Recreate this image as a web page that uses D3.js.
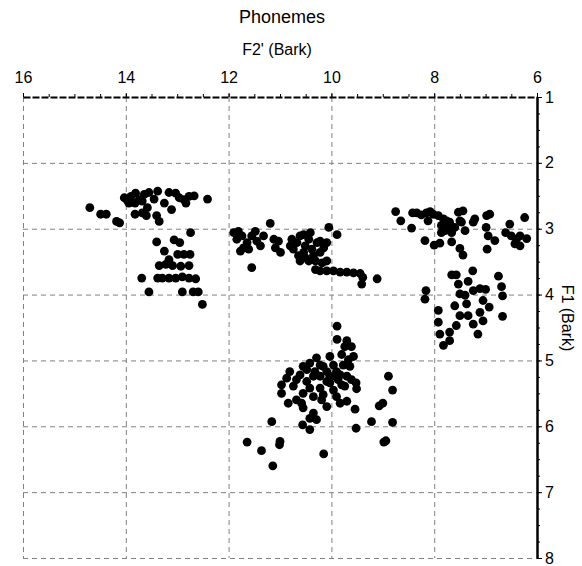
<!DOCTYPE html>
<html>
<head>
<meta charset="utf-8">
<script src="https://cdn.jsdelivr.net/npm/d3@7"></script>
<style>
  body { margin: 0; background: #fff; }
  text { font-family: Arial, "Liberation Sans", sans-serif; fill: #000; }
</style>
</head>
<body>
<div id="chart"></div>
<script>
// axis ticks
var xTicks = [16, 14, 12, 10, 8, 6];
var yTicks = [1, 2, 3, 4, 5, 6, 7, 8];

// [F2' (Bark), F1 (Bark)], one list per cloud
var groupI = [
  [14.03,2.53],[13.97,2.57],[13.9,2.51],[13.81,2.46],[13.74,2.56],[13.64,2.48],[13.55,2.45],
  [13.38,2.43],[13.45,2.55],[13.16,2.45],[13.03,2.46],[12.96,2.53],[12.87,2.56],[12.77,2.51],
  [12.67,2.5],[12.41,2.55],[13.94,2.61],[13.82,2.61],[13.68,2.58],[13.25,2.61],[13.11,2.71],
  [12.83,2.61],[13.58,2.68],
  [14.7,2.68],[14.49,2.78],[14.38,2.78],[14.18,2.89],[14.12,2.91],[13.82,2.78],[13.68,2.76],
  [13.6,2.8],[13.4,2.8],[13.35,2.89],[12.74,3.06],
  [13.4,3.2],[13.06,3.17],[12.95,3.21],[13.25,3.34],[12.99,3.39],[12.87,3.39],[12.75,3.39],
  [13.35,3.56],[13.22,3.54],[13.09,3.56],[12.93,3.57],[12.77,3.56],[13.16,3.47],
  [13.69,3.75],[13.38,3.75],[13.29,3.75],[13.16,3.75],[13.03,3.75],[12.9,3.73],[12.77,3.75],
  [12.64,3.76],[13.55,3.96],[12.9,3.96],[12.69,3.96],[12.59,3.96],[12.51,4.15]
];

var groupE = [
  [11.9,3.06],[11.81,3.04],[11.74,3.11],[11.84,3.16],[11.77,3.34],[11.64,3.21],[11.55,3.11],
  [11.48,3.04],[11.45,3.19],[11.38,3.26],[11.32,3.11],[11.19,2.92],[11.12,3.16],[11.09,3.29],
  [10.99,3.36],[11.03,3.19],[11.55,3.59],[11.61,3.31],[11.71,3.29],[10.77,3.16],[10.74,3.31],
  [10.67,3.21],[10.61,3.11],[10.54,3.09],[10.51,3.26],[10.44,3.16],[10.38,3.31],[10.64,3.41],
  [10.61,3.49],[10.51,3.44],[10.35,3.41],[10.28,3.21],[10.22,3.19],[10.15,3.29],[10.09,3.21],
  [10.05,2.98],[9.89,3.09],[10.22,3.36],[10.18,3.52],[10.09,3.49],[10.31,3.62],[10.22,3.64],
  [10.09,3.64],[9.96,3.64],[9.83,3.66],[9.7,3.66],[9.57,3.67],[9.44,3.68],[9.39,3.74],
  [9.41,3.84],[9.11,3.76],[10.44,3.49],[10.31,3.49],[10.54,3.36],[10.41,3.06],[10.8,3.26]
];

var groupU = [
  [8.75,2.74],[8.65,2.88],[8.44,2.99],[8.42,2.76],[8.34,2.76],[8.25,2.79],[8.15,2.76],
  [8.08,2.74],[8.12,2.88],[8.02,2.78],[7.92,2.8],[7.82,2.85],[7.76,2.88],[7.7,2.9],
  [7.86,2.95],[7.79,3.03],[7.73,3.0],[7.66,3.06],[7.86,3.06],[7.6,2.98],[7.53,2.75],
  [7.44,2.73],[7.5,2.88],[7.47,2.9],[7.4,3.03],[7.24,2.9],[7.21,2.85],[6.98,2.8],
  [6.92,2.78],[6.99,2.98],[6.95,3.11],[6.82,3.18],[6.97,3.31],[8.18,3.18],[8.0,3.25],
  [7.89,3.22],[7.66,3.2],[7.5,3.3],[7.44,3.4],[6.53,2.93],[6.61,3.06],[6.5,3.11],
  [6.4,3.16],[6.33,3.11],[6.2,3.15],[6.24,2.83],[6.43,3.23],[6.33,3.26]
];

var groupO = [
  [7.66,3.7],[7.57,3.7],[7.53,3.84],[7.25,3.64],[7.34,3.8],[6.75,3.72],[6.69,3.88],
  [6.67,4.02],[7.11,3.91],[7.0,3.92],[7.24,3.94],[7.5,3.99],[7.4,4.01],[8.16,3.94],
  [8.18,4.07],[7.92,4.24],[7.92,4.42],[7.89,4.6],[7.82,4.77],[7.7,4.57],[7.7,4.7],
  [7.57,4.47],[7.6,4.17],[7.5,4.32],[7.37,4.14],[7.34,4.32],[7.24,4.45],[7.15,4.6],
  [7.11,4.27],[7.05,4.09],[7.05,4.4],[6.93,4.19],[6.67,4.33]
];

var groupA = [
  [9.89,4.48],[9.89,4.68],[9.7,4.7],[9.61,4.79],[9.57,4.94],[9.64,5.09],[9.61,5.29],
  [9.51,5.43],[9.52,5.34],[10.29,4.96],[10.03,4.94],[10.16,5.09],[9.96,5.07],[9.9,5.17],
  [10.03,5.24],[9.87,5.29],[9.8,5.37],[9.96,5.45],[10.09,5.32],[10.22,5.24],[10.32,5.17],
  [10.48,5.14],[10.61,5.22],[10.81,5.17],[10.68,5.29],[10.97,5.37],[10.97,5.5],[10.84,5.65],
  [10.68,5.6],[10.58,5.65],[10.55,5.72],[10.42,5.42],[10.22,5.42],[10.19,5.6],[10.09,5.7],
  [10.35,5.8],[10.42,5.88],[10.29,5.9],[10.56,5.98],[10.42,6.05],[9.83,5.65],[9.7,5.62],
  [9.54,5.74],[9.52,6.03],[11.16,5.93],[11.0,6.23],[11.01,6.28],[11.36,6.37],[11.64,6.24],
  [11.14,6.6],[10.15,6.42],[8.89,5.24],[8.81,5.45],[9.0,5.65],[9.07,5.69],[9.22,5.93],
  [8.81,5.94],[8.98,6.24],[8.94,6.22],
  [10.55,5.09],[10.42,5.04],[10.35,5.24],[10.22,5.07],[10.09,5.17],[10.03,5.34],[9.93,5.24],
  [9.83,5.22],[9.77,5.07],[9.74,5.39],[9.9,5.55],[10.16,5.52],[10.35,5.55],[10.55,5.5],
  [10.74,5.39],[10.87,5.27],[10.48,5.32],[9.7,5.24],[9.67,4.99],[9.8,4.91],[9.74,4.79]
];

var w = 582;
var h = 566;
var plotLeft = 23, plotRight = 537, plotTop = 97, plotBottom = 558;

var xScale = d3.scaleLinear().domain([16, 6]).range([plotLeft, plotRight]);
var yScale = d3.scaleLinear().domain([1, 8]).range([plotTop, plotBottom]);

var svg = d3.select("#chart")
            .append("svg")
            .attr("width", w)
            .attr("height", h);

// dashed grid (also draws left + bottom edges)
svg.append("g")
   .selectAll("line")
   .data(xTicks.filter(function(d) { return d !== 6; }))
   .enter()
   .append("line")
   .attr("x1", function(d) { return xScale(d) + 0.5; })
   .attr("x2", function(d) { return xScale(d) + 0.5; })
   .attr("y1", plotTop)
   .attr("y2", plotBottom)
   .attr("stroke", "#808080")
   .attr("stroke-dasharray", "5,4");

svg.append("g")
   .selectAll("line")
   .data(yTicks.filter(function(d) { return d !== 1; }))
   .enter()
   .append("line")
   .attr("x1", plotLeft)
   .attr("x2", plotRight)
   .attr("y1", function(d) { return yScale(d) + 0.5; })
   .attr("y2", function(d) { return yScale(d) + 0.5; })
   .attr("stroke", "#808080")
   .attr("stroke-dasharray", "5,4");

// top axis (F2')
var xAxis = d3.axisTop(xScale)
              .tickValues(xTicks)
              .tickFormat(d3.format("d"))
              .tickSizeInner(4)
              .tickSizeOuter(0)
              .tickPadding(10);

var xMinor = d3.axisTop(xScale)
               .tickValues(d3.range(16, 5.9, -0.5))
               .tickFormat("")
               .tickSizeInner(3)
               .tickSizeOuter(0);

svg.append("g")
   .attr("transform", "translate(0," + plotTop + ")")
   .call(xMinor)
   .call(function(g) { g.select(".domain").remove(); });

var gx = svg.append("g")
   .attr("class", "axis")
   .attr("transform", "translate(0," + plotTop + ")")
   .call(xAxis);
gx.select(".domain")
  .attr("stroke", "#000")
  .attr("stroke-width", 2)
  .attr("stroke-dasharray", "7,2");
gx.selectAll("text").style("font-size", "16px");

// right axis (F1)
var yAxis = d3.axisRight(yScale)
              .tickValues(yTicks)
              .tickFormat(d3.format("d"))
              .tickSizeInner(5)
              .tickSizeOuter(0)
              .tickPadding(3);

var yMinor = d3.axisRight(yScale)
               .tickValues(d3.range(1, 8.01, 0.25))
               .tickFormat("")
               .tickSizeInner(3)
               .tickSizeOuter(0);

svg.append("g")
   .attr("transform", "translate(" + plotRight + ",0)")
   .call(yMinor)
   .call(function(g) { g.select(".domain").remove(); });

var gy = svg.append("g")
   .attr("class", "axis")
   .attr("transform", "translate(" + plotRight + ",0)")
   .call(yAxis);
gy.select(".domain")
  .attr("stroke", "#000")
  .attr("stroke-width", 2.5);
gy.selectAll("text").style("font-size", "16px");

// points
var groups = [groupI, groupE, groupU, groupO, groupA];
svg.append("g")
   .selectAll("g")
   .data(groups)
   .enter()
   .append("g")
   .selectAll("circle")
   .data(function(d) { return d; })
   .enter()
   .append("circle")
   .attr("cx", function(d) { return xScale(d[0]); })
   .attr("cy", function(d) { return yScale(d[1]); })
   .attr("r", 4.4)
   .attr("fill", "#000");

// titles
svg.append("text")
   .attr("x", 282)
   .attr("y", 23)
   .attr("text-anchor", "middle")
   .style("font-size", "18px")
   .text("Phonemes");

svg.append("text")
   .attr("x", 277)
   .attr("y", 55)
   .attr("text-anchor", "middle")
   .style("font-size", "16px")
   .text("F2' (Bark)");

svg.append("text")
   .attr("transform", "translate(" + 562 + "," + 318 + ") rotate(90)")
   .attr("text-anchor", "middle")
   .style("font-size", "16px")
   .text("F1 (Bark)");
</script>
</body>
</html>
